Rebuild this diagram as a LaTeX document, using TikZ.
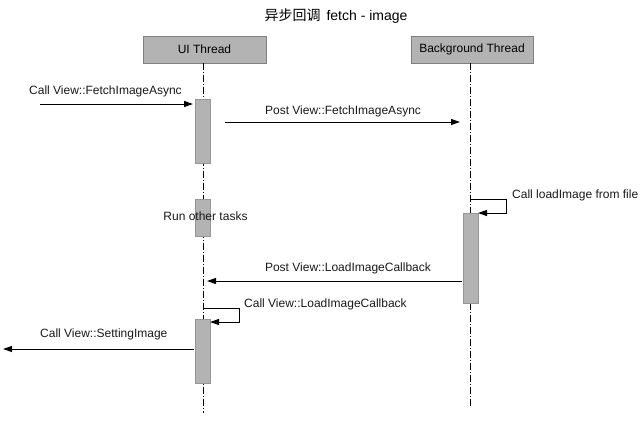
\documentclass[tikz,border=0pt]{standalone}
\usepackage{fontspec}
\setmainfont{Liberation Sans}
\newfontfamily\cjk{Noto Sans CJK SC}
\usetikzlibrary{arrows.meta}
\definecolor{boxfill}{RGB}{179,179,179}
\definecolor{boxline}{RGB}{128,128,128}
\definecolor{barline}{RGB}{150,150,150}
\tikzset{
  header/.style={draw=boxline, fill=boxfill, line width=0.8pt, minimum width=123pt, minimum height=27pt, inner sep=0pt, font=\fontsize{12}{14}\selectfont},
  actbar/.style={draw=barline, fill=boxfill, line width=0.8pt, minimum width=15pt, inner sep=0pt},
  lifeline/.style={line width=0.9pt, dash pattern=on 7pt off 2pt on 1pt off 2pt},
  msg/.style={line width=1pt, -{Triangle[length=9pt,width=6pt]}},
  lbl/.style={font=\fontsize{12}{14}\selectfont, inner sep=0pt, text=black!90},
}
\begin{document}
\begin{tikzpicture}[x=1pt,y=-1pt]
\useasboundingbox (0,0) rectangle (643,421);
% title
\node[inner sep=0pt, font=\fontsize{14}{16}\selectfont] (title) at (336,16) {{\cjk 异步回调}\hspace{6pt}fetch - image};
% headers
\node[header] (ui) at (204.5,49.5) {UI Thread};
\node[header, minimum width=122pt] (bg) at (472,49.5) {Background Thread};
% lifeline ends
\coordinate (uiend) at (203,413);
\coordinate (bgend) at (470.5,406);
\draw[lifeline] (ui.south -| uiend) -- (uiend);
\draw[lifeline] (bg.south -| bgend) -- (bgend);
% activation bars
\node[actbar, minimum height=64pt] (act1) at (202.5,131) {};
\node[actbar, minimum height=37pt] (act2) at (202.5,217.5) {};
\node[actbar, minimum height=64pt] (act3) at (202.5,351) {};
\node[actbar, minimum height=90pt] (bgact) at (470.5,258) {};
% message endpoints
\coordinate (m1s) at (40,104);
\coordinate (m1e) at (193,104);
\coordinate (m2s) at (225,122);
\coordinate (m2e) at (460,122);
\coordinate (s1s) at (470.5,199);
\coordinate (s1r) at (506.5,199);
\coordinate (s1e) at (478,213);
\coordinate (m3s) at (462,281);
\coordinate (m3e) at (207,281);
\coordinate (s2s) at (203,308);
\coordinate (s2r) at (239,308);
\coordinate (s2e) at (210,322);
\coordinate (m4s) at (194,349);
\coordinate (m4e) at (3,349);
% messages
\draw[msg] (m1s) -- (m1e);
\draw[msg] (m2s) -- (m2e);
\draw[msg] (s1s) -- (s1r) |- (s1e);
\draw[msg] (m3s) -- (m3e);
\draw[msg] (s2s) -- (s2r) |- (s2e);
\draw[msg] (m4s) -- (m4e);
% labels
\node[lbl, anchor=west] (l1) at (29,91) {Call View::FetchImageAsync};
\node[lbl] (l2) at (343,111) {Post View::FetchImageAsync};
\node[lbl, anchor=west] (l3) at (512,195) {Call loadImage from file};
\node[lbl] (l4) at (205.5,216) {Run other tasks};
\node[lbl] (l5) at (348,268) {Post View::LoadImageCallback};
\node[lbl, anchor=west] (l6) at (244,304) {Call View::LoadImageCallback};
\node[lbl, anchor=west] (l7) at (40,334) {Call View::SettingImage};
\end{tikzpicture}
\end{document}
